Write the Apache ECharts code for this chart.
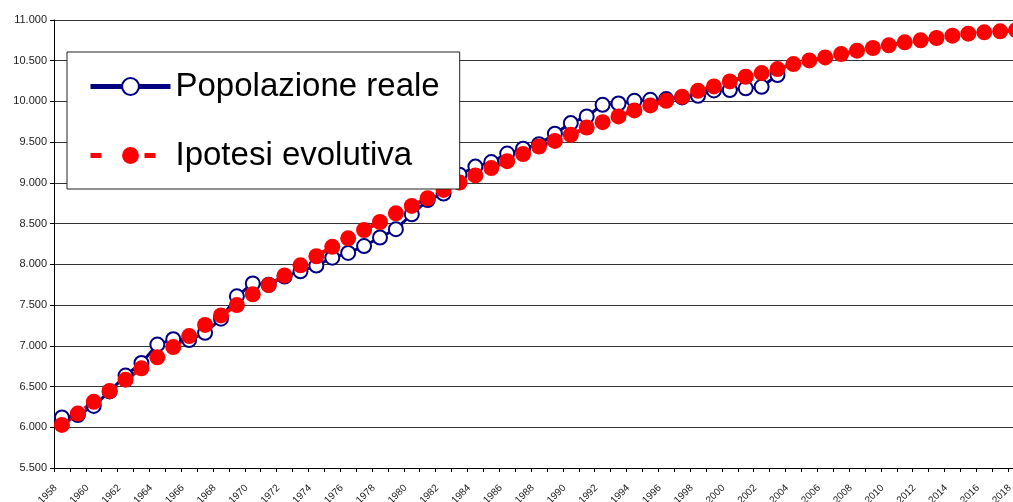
<!DOCTYPE html>
<html>
<head>
<meta charset="utf-8">
<script src="https://cdn.jsdelivr.net/npm/echarts@6/dist/echarts.min.js"></script>
<style>
  html, body { margin: 0; padding: 0; background: #fff; }
  #chart { width: 1013px; height: 502px; }
</style>
</head>
<body>
<div id="chart"></div>
<script>
// Years on the category axis
const years = [
  '1958','1959','1960','1961','1962','1963','1964','1965','1966','1967',
  '1968','1969','1970','1971','1972','1973','1974','1975','1976','1977',
  '1978','1979','1980','1981','1982','1983','1984','1985','1986','1987',
  '1988','1989','1990','1991','1992','1993','1994','1995','1996','1997',
  '1998','1999','2000','2001','2002','2003','2004','2005','2006','2007',
  '2008','2009','2010','2011','2012','2013','2014','2015','2016','2017',
  '2018'
];

// Observed population, 1958-2003
const popolazioneReale = [
  6120, 6150, 6262, 6440, 6635, 6790, 7015, 7082, 7070, 7160,
  7333, 7608, 7765, 7750, 7850, 7915, 7985, 8082, 8140, 8225,
  8330, 8432, 8615, 8790, 8870, 9100, 9200, 9256, 9360, 9420,
  9475, 9605, 9734, 9816, 9959, 9975, 10008, 10020, 10029, 10050,
  10070, 10135, 10141, 10161, 10180, 10325
];

// Modelled trend, 1958-2018
const ipotesiEvolutiva = [
  6029, 6168, 6312, 6445, 6584, 6724, 6859, 6985, 7120, 7256,
  7373, 7500, 7633, 7746, 7863, 7988, 8100, 8215, 8320, 8422,
  8520, 8627, 8717, 8812, 8914, 9004, 9092, 9182, 9267, 9355,
  9447, 9515, 9590, 9680, 9746, 9816, 9890, 9951, 10008, 10057,
  10131, 10184, 10246, 10303, 10348, 10398, 10459, 10504, 10541, 10582,
  10623, 10656, 10689, 10726, 10750, 10779, 10808, 10832, 10849, 10861,
  10875
];

const FONT = "'Liberation Sans', Arial, sans-serif";
const fmtThousands = v => String(v).replace(/\B(?=(\d{3})+(?!\d))/g, '.');

const chart = echarts.init(document.getElementById('chart'), null, { renderer: 'canvas' });

chart.setOption({
  animation: false,
  backgroundColor: '#fff',
  textStyle: { fontFamily: FONT },
  grid: {
    left: 54, right: -11, top: 20, bottom: 34,
    containLabel: false,
    outerBoundsMode: 'none'
  },
  legend: {
    orient: 'vertical',
    left: 67,
    top: 52,
    itemWidth: 80,
    itemHeight: 21,
    itemGap: 36,
    padding: [18, 20, 17, 21],
    borderColor: '#222',
    borderWidth: 1,
    backgroundColor: '#fff',
    selectedMode: false,
    textStyle: { fontSize: 33, color: '#000', fontFamily: FONT },
    data: [
      { name: 'Popolazione reale', lineStyle: { width: 5 } },
      { name: 'Ipotesi evolutiva', lineStyle: { width: 5, type: [11, 43] } }
    ]
  },
  xAxis: {
    type: 'category',
    data: years,
    boundaryGap: true,
    axisLine: { show: true, lineStyle: { color: '#000', width: 1 } },
    axisTick: { show: true, interval: 0, length: 4, lineStyle: { color: '#000' } },
    axisLabel: {
      interval: 1,
      rotate: 45,
      fontSize: 10,
      margin: 12,
      padding: [0, 9, 0, 0],
      color: '#222',
      fontFamily: FONT
    },
    splitLine: { show: false }
  },
  yAxis: {
    type: 'value',
    min: 5500,
    max: 11000,
    interval: 500,
    axisLine: { show: true, lineStyle: { color: '#000', width: 1 } },
    axisTick: { show: true, length: 4, lineStyle: { color: '#000' } },
    axisLabel: {
      fontSize: 11,
      margin: 7,
      color: '#222',
      fontFamily: FONT,
      formatter: fmtThousands
    },
    splitLine: { show: true, lineStyle: { color: '#333', width: 1 } }
  },
  series: [
    {
      name: 'Popolazione reale',
      type: 'line',
      data: popolazioneReale,
      symbol: 'circle',
      symbolSize: 14,
      showAllSymbol: true,
      itemStyle: { color: '#fff', borderColor: '#000080', borderWidth: 2 },
      lineStyle: { color: '#000080', width: 3 },
      emphasis: { disabled: true }
    },
    {
      name: 'Ipotesi evolutiva',
      type: 'line',
      data: ipotesiEvolutiva,
      symbol: 'circle',
      symbolSize: 16,
      showAllSymbol: true,
      itemStyle: { color: '#ff0000', borderWidth: 0 },
      lineStyle: { color: '#ff0000', width: 4, type: [11, 17] },
      emphasis: { disabled: true }
    }
  ]
});
</script>
</body>
</html>
